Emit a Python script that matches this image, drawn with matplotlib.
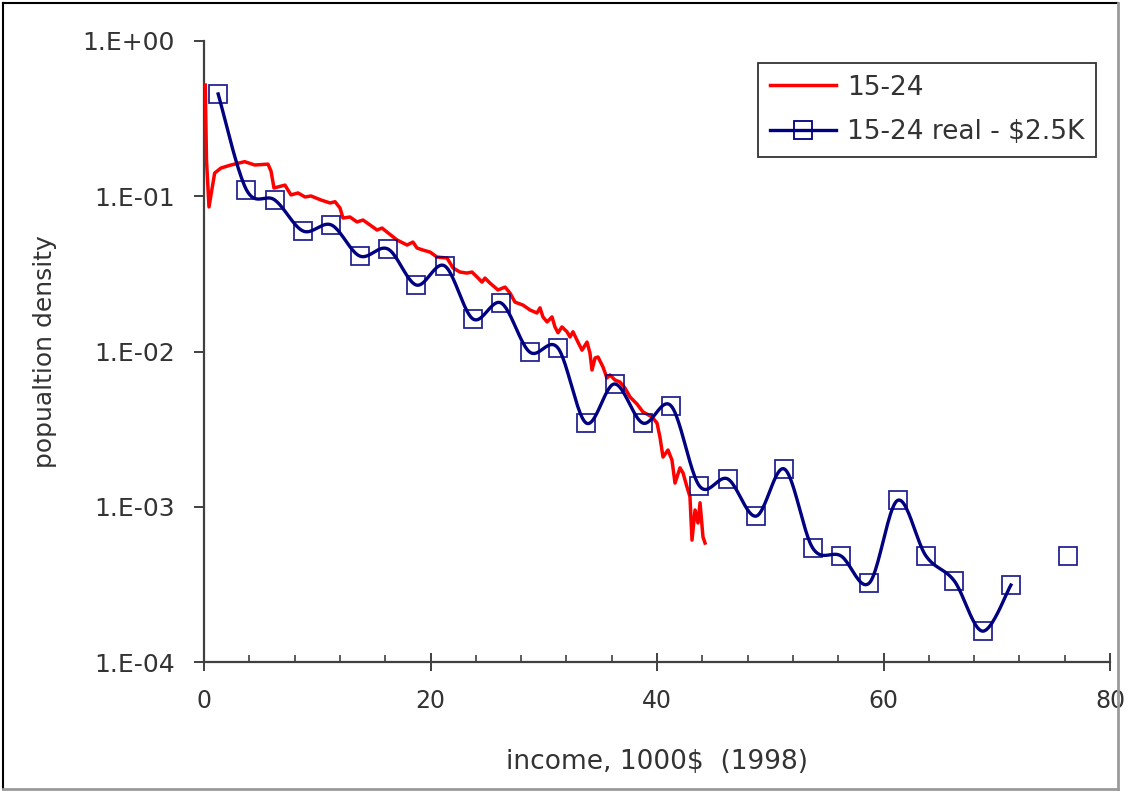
import numpy as np
import matplotlib
matplotlib.use("Agg")
import matplotlib.pyplot as plt
from matplotlib.lines import Line2D
from matplotlib.ticker import FixedLocator, MultipleLocator

# ---------------- data ----------------
red_label = "15-24"
red_x = [0.11, 0.22, 0.44, 0.94, 1.50, 2.38, 3.59, 4.48, 5.65, 5.92, 6.18, 7.15, 7.68, 8.30,
         8.92, 9.45, 10.33, 11.13, 11.57, 12.01, 12.27, 12.89, 13.51, 14.04, 14.66, 15.28,
         15.72, 16.16, 17.04, 17.93, 18.45, 18.81, 19.34, 19.96, 20.57, 21.46, 21.99, 22.60,
         23.22, 23.66, 24.11, 24.55, 24.81, 25.25, 25.96, 26.58, 27.02, 27.46, 28.17, 28.79,
         29.40, 29.67, 29.93, 30.29, 30.73, 30.99, 31.26, 31.61, 32.05, 32.32, 32.58, 33.02,
         33.38, 33.82, 34.08, 34.26, 34.53, 34.79, 35.23, 35.58, 35.85, 36.29, 36.73, 37.17,
         37.62, 38.23, 38.76, 39.56, 40.00, 40.26, 40.53, 40.97, 41.32, 41.59, 42.03, 42.30,
         42.65, 42.91, 43.09, 43.36, 43.62, 43.80, 44.06, 44.24]
red_y = [0.52, 0.171, 0.0853, 0.141, 0.152, 0.159, 0.167, 0.159, 0.161, 0.145, 0.113, 0.118,
         0.102, 0.105, 0.0989, 0.1004, 0.0946, 0.0905, 0.0922, 0.0840, 0.0724, 0.0735, 0.0683,
         0.0703, 0.0653, 0.0606, 0.0624, 0.0588, 0.0523, 0.0485, 0.0507, 0.0464, 0.0450, 0.0437,
         0.0406, 0.0400, 0.0345, 0.0325, 0.0320, 0.0325, 0.0302, 0.0280, 0.0297, 0.0276, 0.0249,
         0.0260, 0.0238, 0.0208, 0.0199, 0.0185, 0.0177, 0.0191, 0.0167, 0.0155, 0.0167, 0.0144,
         0.0132, 0.0144, 0.0134, 0.0124, 0.0134, 0.0115, 0.0102, 0.0115, 0.00978, 0.0076,
         0.00908, 0.00922, 0.00795, 0.00675, 0.00706, 0.00655, 0.00636, 0.00582, 0.00509,
         0.00459, 0.00408, 0.00379, 0.00346, 0.00281, 0.00209, 0.00232, 0.00200, 0.00142,
         0.00178, 0.00165, 0.00134, 0.00116, 0.00061, 0.000953, 0.000786, 0.00106, 0.000639,
         0.000584]

blue_label = "15-24 real - $2.5K"
blue_x = [1.25, 3.75, 6.25, 8.75, 11.25, 13.75, 16.25, 18.75, 21.25, 23.75, 26.25, 28.75,
          31.25, 33.75, 36.25, 38.75, 41.25, 43.75, 46.25, 48.75, 51.25, 53.75, 56.25, 58.75,
          61.25, 63.75, 66.25, 68.75, 71.25, 73.75, 76.25]
blue_y = [0.456, 0.110, 0.0946, 0.0597, 0.0653, 0.0412, 0.0457, 0.0268, 0.0356, 0.0162,
          0.0205, 0.00993, 0.01054, 0.00346, 0.00618, 0.00346, 0.00446, 0.00136, 0.00151,
          0.00087, 0.00175, 0.000542, 0.000482, 0.000323, 0.0011, 0.000482, 0.000333,
          0.000158, 0.000313, np.nan, 0.000482]

y_ticks = [1e-4, 1e-3, 1e-2, 1e-1, 1e0]
y_ticklabels = ["1.E-04", "1.E-03", "1.E-02", "1.E-01", "1.E+00"]
x_ticks = [0, 20, 40, 60, 80]
x_label = "income, 1000$  (1998)"
y_label = "popualtion density"

RED = "#ff0000"
NAVY = "#000080"
AXC = "#404040"
TXT = "#333333"


def smooth_segments(xs, ys, n=24):
    """Excel-like smoothed line (Catmull-Rom as cubic Bezier) in (x, log y) space."""
    xs = np.asarray(xs, float)
    ly = np.log10(np.asarray(ys, float))
    out = []
    idx = np.where(~np.isnan(ly))[0]
    runs, cur = [], [idx[0]]
    for i in idx[1:]:
        if i == cur[-1] + 1:
            cur.append(i)
        else:
            runs.append(cur)
            cur = [i]
    runs.append(cur)
    for run in runs:
        if len(run) < 2:
            continue
        P = np.column_stack([xs[run], ly[run]])
        m = len(P)
        pts = []
        t = np.linspace(0, 1, n)[:, None]
        for k in range(m - 1):
            p0 = P[k - 1] if k > 0 else P[k]
            p1 = P[k]
            p2 = P[k + 1]
            p3 = P[k + 2] if k + 2 < m else P[k + 1]
            c1 = p1 + (p2 - p0) / 6.0
            c2 = p2 - (p3 - p1) / 6.0
            b = ((1 - t) ** 3) * p1 + 3 * ((1 - t) ** 2) * t * c1 + 3 * (1 - t) * t ** 2 * c2 + t ** 3 * p2
            pts.append(b if k == 0 else b[1:])
        pts = np.vstack(pts)
        out.append((pts[:, 0], 10 ** pts[:, 1]))
    return out


fig = plt.figure(figsize=(11.28, 8.01), dpi=100)
ax = fig.add_axes([204 / 1128, 1 - 662 / 801, 906 / 1128, 621 / 801])

ax.set_yscale("log")
ax.set_xlim(0, 80)
ax.set_ylim(1e-4, 1e0)

ax.plot(red_x, red_y, color=RED, lw=2.5, solid_joinstyle="round", zorder=3)

for sx, sy in smooth_segments(blue_x, blue_y):
    ax.plot(sx, sy, color=NAVY, lw=2.4, zorder=4)
ax.plot(blue_x, blue_y, ls="none", marker="s", ms=13.5, mfc="none", mec=NAVY, mew=1.3,
        alpha=0.85, zorder=5)

# legend proxies
h_red = Line2D([], [], color=RED, lw=2.5)
h_blue = Line2D([], [], color=NAVY, lw=2.4, marker="s", ms=13, mfc="none", mec=NAVY, mew=1.3)
leg = ax.legend([h_red, h_blue], [red_label, blue_label], loc="upper right",
                bbox_to_anchor=(0.9845, 0.965), borderaxespad=0, frameon=True, fancybox=False,
                prop={"family": "DejaVu Sans", "size": 19}, handlelength=2.5,
                handletextpad=0.4, labelspacing=0.7, borderpad=0.45)
leg.get_frame().set_edgecolor("black")
leg.get_frame().set_linewidth(1.3)
for t in leg.get_texts():
    t.set_color(TXT)

# spines
for s in ["top", "right"]:
    ax.spines[s].set_visible(False)
for s in ["left", "bottom"]:
    ax.spines[s].set_color(AXC)
    ax.spines[s].set_linewidth(1.6)

# y ticks
ax.yaxis.set_major_locator(FixedLocator(y_ticks))
ax.yaxis.set_minor_locator(FixedLocator([]))
ax.set_yticklabels(y_ticklabels)
ax.tick_params(axis="y", which="major", direction="out", length=7, width=1.4, color=AXC,
               pad=14, labelsize=18, labelcolor=TXT)

# x ticks
ax.xaxis.set_major_locator(FixedLocator(x_ticks))
ax.xaxis.set_minor_locator(MultipleLocator(4))
ax.tick_params(axis="x", which="major", direction="inout", length=13, width=1.4, color=AXC,
               pad=13, labelsize=17, labelcolor=TXT)
ax.tick_params(axis="x", which="minor", direction="in", length=5, width=1.2, color=AXC)

for lab in ax.get_xticklabels() + ax.get_yticklabels():
    lab.set_family("DejaVu Sans")

ax.set_xlabel(x_label, fontsize=19, color=TXT, family="DejaVu Sans", labelpad=26)
ax.set_ylabel(y_label, fontsize=18, color=TXT, family="DejaVu Sans", labelpad=18)

# figure border (chart-area frame)
fig.add_artist(Line2D([3 / 1128, 3 / 1128], [1 - 789 / 801, 1 - 3 / 801], transform=fig.transFigure,
                      color="black", lw=1.5))
fig.add_artist(Line2D([3 / 1128, 1118 / 1128], [1 - 3 / 801, 1 - 3 / 801], transform=fig.transFigure,
                      color="black", lw=1.5))
fig.add_artist(Line2D([1118 / 1128, 1118 / 1128], [1 - 789 / 801, 1 - 3 / 801], transform=fig.transFigure,
                      color="#9a9a9a", lw=2))
fig.add_artist(Line2D([3 / 1128, 1118 / 1128], [1 - 789 / 801, 1 - 789 / 801], transform=fig.transFigure,
                      color="#9a9a9a", lw=2))

fig.savefig("out.png", dpi=100)
